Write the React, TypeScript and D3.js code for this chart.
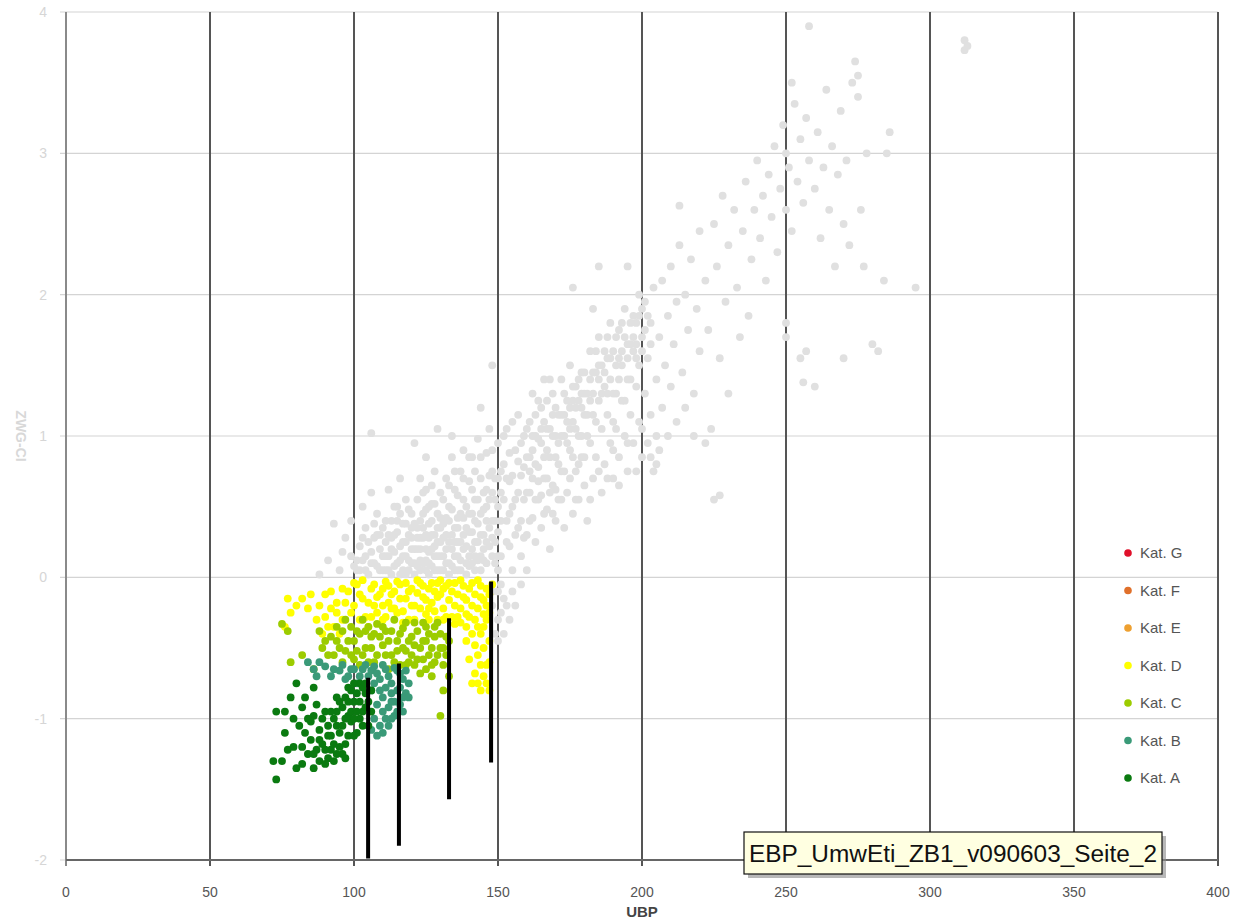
import React from 'react';
import * as d3 from 'd3';

// values (UBP, ZWG-CI)
const grayPoints: [number, number][] = [
  [88,0.02],[91,0.12],[93,0.38],[95,0.05],[97,0.28],[99,0.15],[99,0.4],[96,0.18],
  [101,0.05],[102,0.22],[103,0.12],[104,0.35],[105,0.02],[106,0.18],[106,0.6],[107,0.28],[108,0.08],[108,0.45],[109,0.2],[110,0.35],[106,1.02],[103,0.5],
  [111,0.05],[111,0.25],[112,0.15],[113,0.4],[113,0.02],[114,0.3],[115,0.1],[115,0.5],[116,0.22],[117,0.38],[117,0.05],[118,0.15],[118,0.55],[119,0.3],[120,0.45],[120,0.1],[112,0.62],[116,0.7],
  [121,0.2],[121,0.02],[122,0.35],[122,0.55],[123,0.12],[123,0.7],[124,0.28],[124,0.45],[125,0.05],[125,0.62],[126,0.18],[126,0.38],[127,0.52],[127,0.08],[128,0.3],[128,0.75],[129,0.15],[129,0.45],[130,0.6],[130,0.25],[121,0.95],[125,0.85],
  [131,0.05],[131,0.38],[132,0.2],[132,0.7],[133,0.5],[133,0.1],[134,0.3],[134,0.85],[135,0.62],[135,0.15],[136,0.42],[136,0.05],[137,0.75],[137,0.25],[138,0.55],[138,0.9],[139,0.35],[139,0.1],[140,0.68],[140,0.45],[134,1.0],[129,1.05],
  [141,0.2],[141,0.85],[142,0.55],[142,0.05],[143,0.38],[143,0.98],[144,0.7],[144,0.15],[145,0.48],[145,0.3],[146,0.88],[146,0.62],[147,1.05],[147,0.22],[148,0.4],[148,0.75],[149,0.55],[149,0.1],[150,0.95],[150,0.32],[144,1.2],[148,1.5],[150,-0.1],[150,-0.3],
  [151,0.6],[151,0.15],[152,0.8],[152,-0.15],[153,0.4],[153,1.05],[154,0.22],[154,0.68],[155,0.5],[155,0.05],[156,0.9],[156,-0.2],[157,0.35],[157,1.15],[158,0.72],[158,0.15],[159,0.55],[159,1.0],[160,0.3],[160,0.85],[152,-0.4],[154,-0.3],[155,-0.1],[158,-0.05],[160,0.05],
  [161,1.1],[161,0.6],[162,0.42],[162,1.3],[163,0.8],[163,0.25],[164,0.98],[164,0.55],[165,1.2],[165,0.35],[166,0.7],[166,1.4],[167,0.9],[167,0.48],[168,1.05],[168,0.2],[169,0.65],[169,1.3],[170,0.85],[170,0.4],
  [171,1.15],[171,0.55],[172,1.4],[172,0.75],[173,1.0],[173,0.35],[174,1.25],[174,0.6],[175,0.9],[175,1.5],[176,0.45],[176,1.1],[177,0.75],[177,1.35],[178,1.0],[178,0.55],[179,1.2],[179,0.85],[180,1.45],[180,0.65],[176,2.05],[181,0.4],
  [181,1.3],[182,0.95],[182,1.6],[183,0.7],[183,1.15],[184,1.45],[184,0.85],[185,1.25],[185,1.7],[186,0.6],[186,1.05],[187,1.35],[187,0.8],[188,1.55],[188,1.15],[189,0.95],[189,1.8],[190,1.3],[190,0.7],[185,2.2],[183,1.9],
  [191,1.5],[191,1.05],[192,1.75],[192,0.85],[193,1.25],[193,1.6],[194,1.0],[194,1.9],[195,1.4],[195,0.75],[196,1.65],[196,1.15],[197,1.85],[197,0.95],[198,1.35],[198,1.55],[199,1.1],[199,2.0],[200,1.7],[200,0.85],[195,2.2],
  [201,1.3],[201,1.95],[202,1.55],[202,0.95],[203,1.8],[203,1.15],[204,2.05],[205,1.4],[205,0.8],[206,1.7],[207,1.2],[207,2.1],[208,1.5],[209,1.85],[209,1.0],[210,2.2],[210,1.35],[204,0.75],[206,0.9],
  [211,1.65],[212,1.95],[212,1.1],[213,2.35],[213,2.63],[214,1.45],[215,2.0],[216,1.75],[217,2.25],[218,1.3],[219,1.9],[220,2.45],[220,1.6],[218,1.0],[222,0.95],[215,1.2],
  [222,2.1],[223,1.75],[225,2.5],[226,2.2],[227,1.55],[228,2.7],[229,1.95],[230,2.35],[232,2.6],[233,2.05],[235,2.45],[236,2.8],[237,1.85],[238,2.25],[239,2.6],[240,2.95],[225,0.55],[227,0.58],[230,1.3],[224,1.05],[234,1.7],
  [241,2.4],[242,2.7],[243,2.1],[244,2.85],[245,2.55],[246,3.05],[247,2.3],[248,2.75],[249,3.2],[250,2.6],[250,3.0],[251,2.9],[252,2.45],[253,3.35],[254,2.8],[255,3.1],[256,2.65],[257,3.25],[258,2.95],[258,3.9],[250,1.8],[250,1.7],[255,1.55],[257,1.6],[256,1.38],[260,1.35],[252,3.5],
  [260,2.75],[261,3.15],[262,2.4],[263,2.9],[264,3.45],[265,2.6],[266,3.05],[267,2.2],[268,2.85],[269,3.3],[270,2.5],[271,2.95],[272,2.35],[273,3.5],[274,3.65],[275,3.55],[275,3.4],[276,2.6],[277,2.2],[278,3.0],[280,1.65],[282,1.6],[284,2.1],[286,3.15],[285,3.0],[295,2.05],[270,1.55],
  [312,3.8],[312,3.73],[313,3.76],
  // dense core, second pass
  [100,0.08],[102,0.05],[104,0.15],[105,0.25],[107,0.1],[108,0.3],[109,0.05],[110,0.15],[111,0.4],[112,0.3],[113,0.2],[114,0.08],[114,0.5],[115,0.32],[116,0.12],[116,0.45],[117,0.25],[118,0.38],[118,0.02],[119,0.12],[119,0.48],[120,0.28],[121,0.38],[122,0.08],[122,0.2],[123,0.4],[123,0.28],[124,0.1],[124,0.6],[125,0.2],[125,0.48],[126,0.1],[126,0.28],[126,0.5],[127,0.3],[127,0.65],[128,0.15],[128,0.52],[129,0.05],[129,0.35],[130,0.15],[130,0.42],[131,0.28],[131,0.55],[132,0.1],[132,0.42],[133,0.25],[133,0.65],[134,0.08],[134,0.48],[135,0.35],[135,0.75],[136,0.25],[136,0.58],[137,0.12],[137,0.45],[138,0.3],[138,0.7],[139,0.5],[139,0.22],[140,0.08],[140,0.32],[140,0.85],[141,0.45],[141,0.62],[142,0.25],[142,0.75],[143,0.12],[143,0.55],[144,0.3],[144,0.85],[145,0.6],[145,0.12],[146,0.4],[146,0.25],[147,0.55],[147,0.72],[148,0.28],[148,0.9],[149,0.4],[149,0.7],[150,0.5],[150,0.15],
  [151,0.75],[151,0.4],[152,0.55],[152,1.0],[153,0.7],[153,0.25],[154,0.88],[154,0.45],[155,0.72],[155,1.1],[156,0.55],[156,0.3],[157,0.82],[157,0.6],[158,0.95],[158,0.4],[159,0.78],[159,0.28],[160,1.05],[160,0.6],[161,0.85],[161,0.4],[162,0.7],[162,1.0],[163,1.15],[163,0.55],[164,0.78],[164,1.25],[165,0.95],[165,0.58],[166,1.1],[166,0.45],[167,1.25],[167,0.7],[168,0.85],[168,1.4],[169,1.0],[169,0.45],[170,1.2],[170,0.62],[171,0.95],[172,1.15],[172,0.55],[173,1.3],[173,0.75],[174,0.95],[175,1.2],[175,0.7],[176,1.35],[176,0.85],[177,1.05],[177,0.55],[178,1.25],[178,0.8],[179,1.45],[179,1.0],[180,1.15],[180,0.85],[181,1.0],[182,1.25],[183,1.45],[184,1.1],[185,1.5],[186,1.3],[187,1.6],[188,1.3],[189,1.55],[190,1.1],[191,1.3],[192,1.55],[193,1.8],[194,1.25],[195,1.65],[196,1.4],[197,1.6],[198,1.8],[199,1.5],[200,1.9],
  [185,0.75],[190,0.9],[195,0.95],[200,1.05],[203,0.85],[205,1.0],[198,0.75],[192,0.65],[188,0.7],[182,0.55],
  [148,-0.2],[149,-0.4],[151,-0.25],[153,-0.2],[150,-0.45],[148,-0.1],[151,-0.05],
  // dense core, third pass
  [101,0.12],[103,0.28],[104,0.05],[106,0.1],[107,0.38],[109,0.3],[110,0.05],[111,0.15],[112,0.05],[113,0.28],[114,0.18],[115,0.4],[116,0.02],[117,0.15],[118,0.25],[119,0.05],[120,0.2],[120,0.35],[121,0.1],[122,0.28],[123,0.05],[123,0.2],[124,0.35],[125,0.12],[125,0.3],[126,0.02],[127,0.2],[127,0.4],[128,0.05],[128,0.22],[129,0.25],[130,0.05],[130,0.35],[131,0.15],[132,0.3],[133,0.02],[133,0.4],[134,0.2],[135,0.05],[135,0.25],[136,0.15],[136,0.35],[137,0.05],[138,0.2],[138,0.42],[139,0.02],[140,0.15],[141,0.1],[141,0.32],[142,0.15],[142,0.4],[143,0.25],[144,0.05],[144,0.45],[145,0.2],[146,0.1],[146,0.5],[147,0.35],[148,0.15],[148,0.6],[149,0.25],[150,0.05],[150,0.7],
  [161,0.75],[162,0.9],[163,1.0],[164,0.68],[165,1.05],[166,0.85],[167,1.05],[168,0.6],[169,1.15],[170,1.0],[171,0.8],[172,1.0],[173,1.15],[174,1.1],[175,1.05],[176,1.25],[177,1.2],[178,1.4],[179,1.3],[180,1.3],[181,1.15],[182,1.4],[183,1.3],[184,1.6],[185,1.4],[186,1.5],[187,1.45],[188,1.7],[189,1.4],[190,1.6],[191,1.7],[192,1.4],[193,1.5],[194,1.7],[195,1.55],[196,1.8],[197,1.7],[198,1.65],[199,1.85],[200,1.6],[201,1.75],[202,1.85],[203,1.65],
];

const katD: [number, number][] = [
  [98,-0.1],[100,-0.2],[101,-0.05],[103,-0.15],[104,-0.28],[106,-0.08],[107,-0.2],[109,-0.12],[110,-0.3],[111,-0.03],[112,-0.18],[114,-0.1],[115,-0.25],[116,-0.05],[118,-0.15],[119,-0.3],[120,-0.08],[121,-0.2],[123,-0.04],[124,-0.14],[125,-0.26],[126,-0.08],[127,-0.18],[129,-0.04],[129,-0.3],[130,-0.12],[131,-0.22],[132,-0.06],[133,-0.16],[134,-0.28],[135,-0.04],[136,-0.12],[137,-0.22],[138,-0.06],[139,-0.16],[140,-0.28],[141,-0.04],[142,-0.12],[143,-0.22],[144,-0.06],[145,-0.16],[146,-0.3],[117,-0.32],[113,-0.22],[122,-0.11],[128,-0.1],[108,-0.25],[102,-0.3],[105,-0.35],
  [144,-0.4],[145,-0.5],[146,-0.62],[147,-0.45],[143,-0.55],[142,-0.68],[141,-0.75],[140,-0.58],[146,-0.75],[144,-0.8],[139,-0.45],[147,-0.25],
  [77,-0.15],[78,-0.25],[76,-0.35],[80,-0.2],[85,-0.12],[88,-0.2],[90,-0.28],[92,-0.1],[94,-0.18],[96,-0.3],[93,-0.35],[89,-0.4],
  [99,-0.25],[100,-0.04],[102,-0.12],[103,-0.02],[105,-0.18],[106,-0.28],[107,-0.05],[108,-0.14],[110,-0.08],[110,-0.2],[111,-0.28],[112,-0.06],[113,-0.12],[114,-0.22],[115,-0.03],[116,-0.15],[117,-0.24],[118,-0.04],[119,-0.1],[120,-0.2],[121,-0.3],[122,-0.02],[123,-0.22],[124,-0.06],[125,-0.16],[126,-0.3],[127,-0.04],[128,-0.24],[129,-0.14],[130,-0.02],[131,-0.08],[132,-0.28],[133,-0.04],[134,-0.1],[135,-0.2],[136,-0.28],[137,-0.02],[138,-0.14],[139,-0.26],[140,-0.08],[141,-0.2],[142,-0.3],[143,-0.02],[144,-0.14],[145,-0.26],[146,-0.08],[147,-0.12],[146,-0.2],[145,-0.35],[143,-0.35],[141,-0.4],[139,-0.35],[137,-0.32],[135,-0.33],[131,-0.3],[126,-0.22],[148,-0.05],[147,-0.6],[145,-0.7],[142,-0.48],[147,-0.8],[143,-0.75],[144,-0.62],
  [96,-0.08],[94,-0.25],[92,-0.22],[90,-0.12],[87,-0.3],[84,-0.22],[82,-0.15],[95,-0.4],[91,-0.35],[97,-0.18],
];

const katC: [number, number][] = [
  [92,-0.42],[94,-0.35],[95,-0.5],[97,-0.3],[98,-0.45],[100,-0.58],[101,-0.38],[103,-0.3],[104,-0.5],[106,-0.42],[107,-0.6],[108,-0.33],[110,-0.48],[111,-0.38],[113,-0.55],[114,-0.3],[115,-0.45],[117,-0.36],[118,-0.52],[120,-0.42],[121,-0.32],[122,-0.58],[124,-0.45],[125,-0.35],[126,-0.55],[128,-0.42],[129,-0.32],[130,-0.5],[131,-0.62],[132,-0.42],[133,-0.7],[131,-0.8],[128,-0.6],[119,-0.6],[105,-0.35],[99,-0.55],[96,-0.6],[102,-0.62],[130,-0.98],
  [75,-0.33],[77,-0.38],[78,-0.6],[82,-0.55],[89,-0.5],[86,-0.65],[112,-0.65],[116,-0.62],[123,-0.68],[127,-0.7],
  [93,-0.55],[94,-0.45],[96,-0.38],[97,-0.52],[99,-0.35],[100,-0.45],[101,-0.52],[102,-0.4],[103,-0.55],[104,-0.38],[105,-0.6],[106,-0.5],[107,-0.4],[108,-0.55],[109,-0.42],[110,-0.35],[111,-0.55],[112,-0.45],[113,-0.38],[114,-0.6],[115,-0.52],[116,-0.4],[117,-0.5],[118,-0.32],[119,-0.45],[120,-0.55],[121,-0.48],[122,-0.38],[123,-0.5],[124,-0.58],[124,-0.32],[125,-0.45],[126,-0.4],[127,-0.5],[128,-0.35],[129,-0.55],[130,-0.4],[131,-0.5],[132,-0.55],[133,-0.45],[127,-0.62],[125,-0.65],[121,-0.62],[118,-0.62],[90,-0.45],[91,-0.55],[88,-0.38],
];

const katB: [number, number][] = [
  [84,-0.6],[86,-0.65],[88,-0.6],[90,-0.63],[92,-0.7],[95,-0.66],[97,-0.72],[99,-0.65],[101,-0.75],[103,-0.65],[105,-0.7],[107,-0.63],[109,-0.72],[111,-0.65],[113,-0.75],[115,-0.66],[117,-0.72],[118,-0.82],[116,-0.9],[114,-0.98],[112,-1.05],[110,-1.1],[117,-0.95],[119,-0.75],[108,-1.12],[106,-0.8],[110,-0.85],[113,-0.88],
  [96,-0.62],[98,-0.7],[100,-0.65],[102,-0.7],[104,-0.62],[106,-0.66],[108,-0.68],[110,-0.62],[112,-0.7],[114,-0.64],[116,-0.68],[118,-0.66],[107,-0.75],[109,-0.8],[111,-0.78],[113,-0.82],[115,-0.8],[117,-0.85],[108,-0.9],[110,-0.95],[112,-0.92],[114,-0.88],[115,-0.95],[111,-1.0],[109,-1.05],[113,-1.0],[107,-1.0],[106,-1.08],[116,-0.78],[119,-0.85],[93,-0.65],[87,-0.7],
];

const katA: [number, number][] = [
  [73,-0.95],[72,-1.3],[73,-1.43],[76,-1.1],[78,-0.85],[79,-1.2],[80,-1.35],[82,-0.92],[83,-1.1],[84,-1.25],[85,-1.15],[86,-0.98],[87,-1.22],[88,-1.08],[89,-1.18],[90,-0.95],[91,-1.12],[92,-1.22],[93,-1.0],[94,-0.85],[95,-1.1],[96,-0.92],[97,-1.18],[98,-0.78],[99,-1.02],[100,-0.88],[101,-1.1],[102,-0.75],[103,-0.95],[104,-0.82],[105,-1.05],[100,-0.75],[96,-1.25],[91,-1.28],[88,-1.3],[94,-1.05],[98,-0.98],[102,-1.0],[86,-0.78],[80,-0.75],[82,-1.32],
  [88,-1.15],[89,-1.0],[90,-1.22],[91,-1.05],[92,-0.95],[92,-1.12],[93,-1.18],[94,-0.95],[95,-1.2],[95,-0.88],[96,-1.05],[97,-0.85],[97,-1.0],[98,-1.12],[98,-0.88],[99,-0.8],[99,-0.95],[100,-1.0],[101,-0.82],[101,-0.95],[102,-0.88],[103,-0.78],[103,-1.05],[104,-0.92],[104,-0.75],[105,-0.88],[106,-0.8],[106,-0.95],[100,-1.12],[97,-1.28],[93,-1.3],[90,-1.32],[86,-1.25],[85,-1.02],[87,-0.9],[83,-0.85],[84,-1.0],[81,-1.05],[77,-1.22],[75,-1.3],[76,-0.95],[79,-1.0],[82,-1.2],[94,-1.25],[86,-1.35],
];

// black bars: x, top, bottom
const bars: [number, number, number][] = [
  [104.9, -0.71, -1.99],
  [115.6, -0.61, -1.9],
  [133, -0.29, -1.57],
  [147.6, -0.03, -1.31],
];

const legendItems = ['Kat. G', 'Kat. F', 'Kat. E', 'Kat. D', 'Kat. C', 'Kat. B', 'Kat. A'];
const legendColors = ['#e0102a', '#e0702a', '#eea030', '#ffff00', '#9ccc00', '#3a9a78', '#0a7a10'];

const xTicks = [0, 50, 100, 150, 200, 250, 300, 350, 400];
const yTicks = [4, 3, 2, 1, 0, -1, -2];

const width = 1241;
const height = 924;
const margin = { top: 12, right: 23, bottom: 64, left: 66 };
const font = '"Liberation Sans", Arial, sans-serif';

export default function App() {
  const x = d3.scaleLinear().domain([0, 400]).range([margin.left, width - margin.right]);
  const y = d3.scaleLinear().domain([-2, 4]).range([height - margin.bottom, margin.top]);
  const r = 3.9;

  const dots = (pts: [number, number][], color: string, key: string) =>
    pts.map((d, i) => <circle key={key + i} cx={x(d[0])} cy={y(d[1])} r={r} fill={color} />);

  const legendY = d3.scaleLinear().domain([0, 6]).range([553, 778]);

  return (
    <svg width={width} height={height} style={{ position: 'absolute', left: 0, top: 0, background: '#fff' }}>
      {/* horizontal grid */}
      {yTicks.map(t => (
        <line key={'h' + t} x1={x(0) - 6} x2={x(400)} y1={y(t)} y2={y(t)} stroke="#d4d4d4" strokeWidth={1.2} />
      ))}
      {/* vertical grid */}
      {xTicks.map(t => (
        <line key={'v' + t} x1={x(t)} x2={x(t)} y1={y(4)} y2={y(-2) + 6}
          stroke={t === 0 ? '#8a8a8a' : '#555'} strokeWidth={2} />
      ))}
      <line x1={x(0)} x2={x(400)} y1={y(-2)} y2={y(-2)} stroke="#666" strokeWidth={2} />

      {dots(grayPoints, '#e0e0e0', 'g')}
      {dots(katD, legendColors[3], 'd')}
      {dots(katC, legendColors[4], 'c')}
      {dots(katB, legendColors[5], 'b')}
      {dots(katA, legendColors[6], 'a')}

      {bars.map((b, i) => (
        <line key={'bar' + i} x1={x(b[0])} x2={x(b[0])} y1={y(b[1])} y2={y(b[2])} stroke="#000" strokeWidth={4} />
      ))}

      {/* ticks */}
      {xTicks.map(t => (
        <text key={'xt' + t} x={x(t)} y={897} textAnchor="middle" fontFamily={font} fontSize={14} fill="#555">{t}</text>
      ))}
      {yTicks.map(t => (
        <text key={'yt' + t} x={47} y={y(t) + 5} textAnchor="end" fontFamily={font} fontSize={14} fill="#d6d6d6">{t}</text>
      ))}
      <text x={642} y={917} textAnchor="middle" fontFamily={font} fontSize={15} fontWeight="bold" fill="#444">UBP</text>
      <text transform={`translate(16,${y(1)}) rotate(90)`} textAnchor="middle" fontFamily={font} fontSize={14}
        fontWeight="bold" fill="#d8d8d8">ZWG-CI</text>

      {/* legend */}
      {legendItems.map((name, i) => (
        <g key={name} transform={`translate(0,${legendY(i)})`}>
          <circle cx={1128} cy={0} r={3.8} fill={legendColors[i]} />
          <text x={1140} y={5} fontFamily={font} fontSize={15} fill="#555">{name}</text>
        </g>
      ))}

      {/* file label box */}
      <rect x={748} y={836} width={418} height={42} fill="#888" opacity={0.6} />
      <rect x={744} y={832} width={418} height={42} fill="#ffffe1" stroke="#111" strokeWidth={1.2} />
      <text x={749} y={862} fontFamily={font} fontSize={23} fill="#111" textLength={408} lengthAdjust="spacingAndGlyphs">
        EBP_UmwEti_ZB1_v090603_Seite_2
      </text>
    </svg>
  );
}
